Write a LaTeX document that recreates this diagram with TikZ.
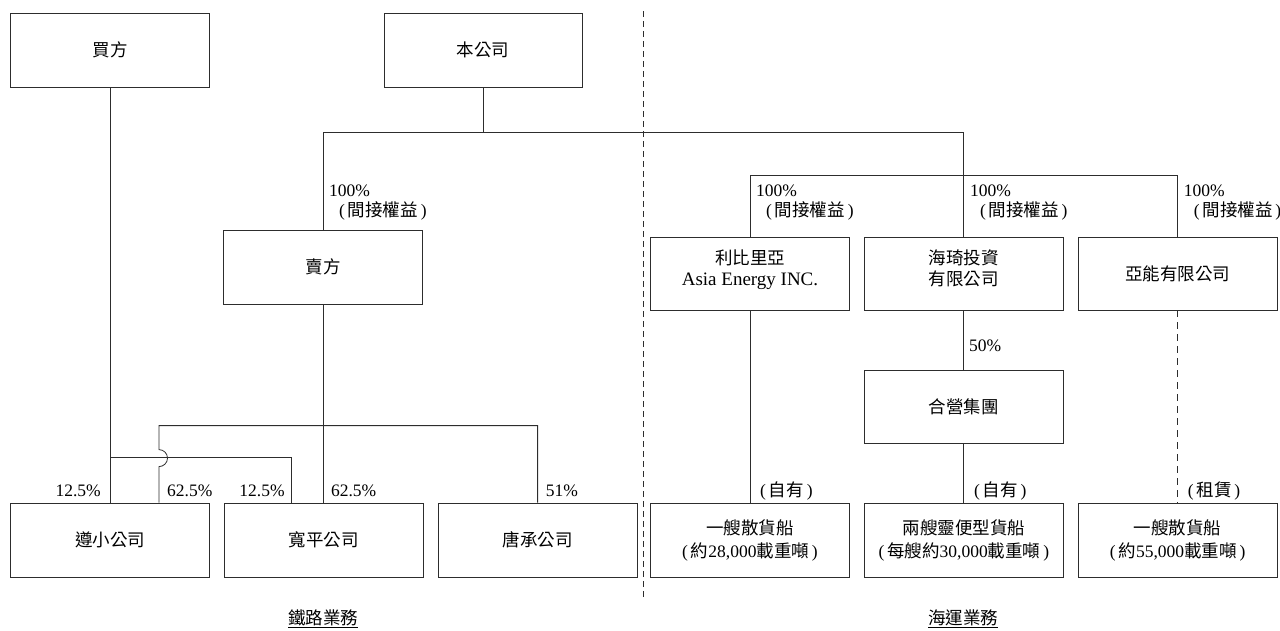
\documentclass[tikz,border=0pt]{standalone}
\usepackage{fontspec}
\setmainfont{Liberation Serif}
\newfontfamily\cjk{Noto Sans CJK TC}
\usepackage{xcolor}
\usepackage{tikz}
\usetikzlibrary{positioning}
\definecolor{inkline}{RGB}{45,45,45}
\newcommand{\zh}[1]{{\cjk #1}}
\newcommand{\pbr}[1]{(\,\zh{#1}\,)}

\begin{document}
\begin{tikzpicture}[
  x=1pt, y=-1pt,
  box/.style={rectangle, draw=inkline, line width=0.8pt, align=center, minimum width=199pt, minimum height=74pt, inner sep=2pt, font=\fontsize{17.5}{21}\selectfont},
  pct/.style={inner sep=0pt, align=left, font=\fontsize{17.5}{20}\selectfont},
  link/.style={draw=inkline, line width=0.8pt},
  divider/.style={draw=inkline, line width=0.7pt, dash pattern=on 6pt off 4pt}
]
  \useasboundingbox (0,0) rectangle (1280,630);

  \node[box] (buyer) at (110,50) {\zh{買方}};
  \node[box, minimum width=198pt] (company) at (483,50) {\zh{本公司}};
  \node[box] (seller) at (323,267) {\zh{賣方}};

  \node[box] (zunxiao) at (110,540) {\zh{遵小公司}};
  \node[box, right=14pt of zunxiao] (kuanping) {\zh{寬平公司}};
  \node[box, right=14pt of kuanping] (tangcheng) {\zh{唐承公司}};

  \node[box, minimum height=73pt, text depth=11pt] (liberia) at (750,273.5) {\zh{利比里亞}\\{\fontsize{19}{21}\selectfont Asia Energy INC.}};
  \node[box, minimum height=73pt, text depth=11pt, right=14pt of liberia] (haiqi) {\zh{海琦投資}\\\zh{有限公司}};
  \node[box, minimum height=73pt, right=14pt of haiqi] (yaneng) {\zh{亞能有限公司}};
  \node[box, minimum height=73pt, below=60pt of haiqi] (jv) {\zh{合營集團}};

  \node[box] (bulkone) at (750,540) {\zh{一艘散貨船}\\[2pt](\,\zh{約}28,000\zh{載重噸}\,)};
  \node[box, right=14pt of bulkone] (handy) {\zh{兩艘靈便型貨船}\\[2pt](\,\zh{每艘約}30,000\zh{載重噸}\,)};
  \node[box, right=14pt of handy] (bulktwo) {\zh{一艘散貨船}\\[2pt](\,\zh{約}55,000\zh{載重噸}\,)};

  \coordinate (divtop) at (643,11);
  \coordinate (divbot) at (643,600);
  \draw[divider] (divtop) -- (divbot);

  \draw[link] (company.south) -- ++(0,45) coordinate (trunk);
  \draw[link] (seller.north) |- (trunk) -| (haiqi.north);
  \draw[link] (liberia.north) -- ++(0,-61) -| (yaneng.north);

  \draw[link] (seller) -- (seller |- kuanping.north);
  \draw[link] (buyer) -- (zunxiao);
  \draw[link] ([yshift=45pt]zunxiao.north) -| ([xshift=-32pt]kuanping.north);
  \draw[link] ([xshift=49pt]zunxiao.north) -- ++(0,-36) arc(90:-90:8.5) -- ++(0,-24) -| (tangcheng.north);

  \draw[link] (liberia) -- (bulkone);
  \draw[link] (haiqi) -- (jv);
  \draw[link] (jv) -- (handy);
  \draw[link, dash pattern=on 7pt off 5pt] (yaneng) -- (bulktwo);

  \node[pct, anchor=west] (sellerpct) at ([xshift=6pt, yshift=27pt]seller.north) {100\%\\\hspace*{10pt}\pbr{間接權益}};
  \node[pct, anchor=west] (liberiapct) at ([xshift=6pt, yshift=34.5pt]liberia.north) {100\%\\\hspace*{10pt}\pbr{間接權益}};
  \node[pct, anchor=west] (haiqipct) at ([xshift=6pt, yshift=34.5pt]haiqi.north) {100\%\\\hspace*{10pt}\pbr{間接權益}};
  \node[pct, anchor=west] (yanengpct) at ([xshift=6pt, yshift=34.5pt]yaneng.north) {100\%\\\hspace*{10pt}\pbr{間接權益}};
  \node[pct, anchor=west] (jvpct) at ([xshift=5pt, yshift=25pt]jv.north) {50\%};

  \node[pct, anchor=east] (zunbuyer) at ([xshift=-9pt, yshift=12pt]zunxiao.north) {12.5\%};
  \node[pct, anchor=west] (zunseller) at ([xshift=57pt, yshift=12pt]zunxiao.north) {62.5\%};
  \node[pct, anchor=east] (kuanbuyer) at ([xshift=-39pt, yshift=12pt]kuanping.north) {12.5\%};
  \node[pct, anchor=west] (kuanseller) at ([xshift=7pt, yshift=12pt]kuanping.north) {62.5\%};
  \node[pct, anchor=west] (tangpct) at ([xshift=8pt, yshift=12pt]tangcheng.north) {51\%};

  \node[pct, anchor=west] (ownone) at ([xshift=10pt, yshift=12pt]bulkone.north) {\pbr{自有}};
  \node[pct, anchor=west] (owntwo) at ([xshift=10pt, yshift=12pt]handy.north) {\pbr{自有}};
  \node[pct, anchor=west] (charter) at ([xshift=10pt, yshift=12pt]bulktwo.north) {\pbr{租賃}};

  \node[pct] (railfoot) at (323,619) {\underline{\zh{鐵路業務}}};
  \node[pct] (seafoot) at (963,619) {\underline{\zh{海運業務}}};
\end{tikzpicture}
\end{document}
